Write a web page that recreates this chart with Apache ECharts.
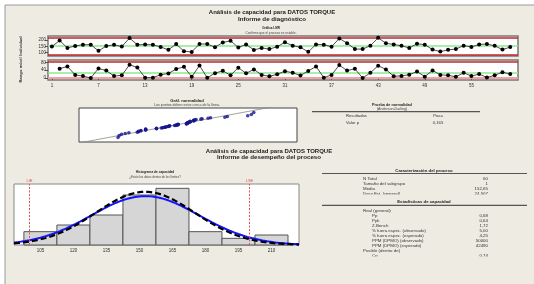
<!DOCTYPE html>
<html>
<head>
<meta charset="utf-8">
<script src="https://cdn.jsdelivr.net/npm/echarts@6/dist/echarts.min.js"></script>
<style>
html,body{margin:0;padding:0;background:#fff;}
#main{width:534px;height:284px;}
</style>
</head>
<body>
<div id="main"></div>
<script>
var torque = [148,196,137,153,163,163,114,152,162,148,
              216,162,164,162,145,122,168,111,105,169,
              168,143,180,194,141,165,121,137,128,147,
              182,155,142,106,165,163,147,213,175,128,
              128,155,218,174,165,154,137,170,163,124,
              108,122,128,155,145,165,168,154,124,144];
var movingRange = [null,48,59,16,10,0,49,38,10,14,
                   68,54,2,2,17,23,46,57,6,64,
                   1,25,37,14,53,24,44,16,9,19,
                   35,27,13,36,59,2,16,66,38,47,
                   0,27,63,44,9,11,17,33,7,39,
                   16,14,6,27,10,20,3,14,30,20];
var obsTicks = [1,7,13,19,25,31,37,43,49,55];
var iTicks = [100,150,200];
var mrTicks = [0,40,80];
var iLimits = [85.1,152.65,220.2];   // LCL, media, UCL
var mrLimits = [0,25.4,83.0];

// histograma de capacidad
var binCenters = [105,120,135,150,165,180,195,210];
var binCounts = [4,6,9,15,17,4,2,3];
var binWidth = 15;
var specLimits = [100,200];
var specNames = ['LIE','LSE'];
var meanVal = 152.65, sdOverall = 24.5, sdWithin = 22.5;

// tablas
var charRows = [['N Total','60'],['Tamaño del subgrupo','1'],['Media','152,65'],['Desv.Est. (general)','24,507']];
var capRows = [['Real (general)','',0],['Pp','0,68',1],['Ppk','0,64',1],['Z.Bench','1,72',1],
               ['% fuera espec. (observado)','5,00',1],['% fuera espec. (esperado)','4,25',1],
               ['PPM (DPMO) (observado)','50000',1],['PPM (DPMO) (esperado)','42490',1],
               ['Posible (dentro de)','',0],['Cp','0,74',1]];
var normRows = [['Resultados','Pasa'],['Valor p','0,165']];

var BG = '#eeebe2';
var FONT = '"Liberation Sans", Arial, sans-serif';

function normInv(p){
    var a=[-39.69683028665376,220.9460984245205,-275.9285104469687,138.3577518672690,-30.66479806614716,2.506628277459239];
    var b=[-54.47609879822406,161.5858368580409,-155.6989798598866,66.80131188771720,-13.28068155288572];
    var c=[-7.784894002430293e-03,-3.223964580411365e-01,-2.400758277161838,-2.549732539343734,4.374664141464968,2.938163982698783];
    var d=[7.784695709041462e-03,3.224671290700398e-01,2.445134137142996,3.754408661907416];
    var q, r;
    if(p<0.02425){q=Math.sqrt(-2*Math.log(p));return (((((c[0]*q+c[1])*q+c[2])*q+c[3])*q+c[4])*q+c[5])/((((d[0]*q+d[1])*q+d[2])*q+d[3])*q+1);}
    if(p>1-0.02425){q=Math.sqrt(-2*Math.log(1-p));return -(((((c[0]*q+c[1])*q+c[2])*q+c[3])*q+c[4])*q+c[5])/((((d[0]*q+d[1])*q+d[2])*q+d[3])*q+1);}
    q=p-0.5;r=q*q;
    return (((((a[0]*r+a[1])*r+a[2])*r+a[3])*r+a[4])*r+a[5])*q/(((((b[0]*r+b[1])*r+b[2])*r+b[3])*r+b[4])*r+1);
}
function normCurve(sd){
    var out = [];
    var k = torque.length*binWidth/(sd*Math.sqrt(2*Math.PI));
    for(var x=93;x<=222.5;x+=0.5){
        out.push([x, k*Math.exp(-0.5*Math.pow((x-meanVal)/sd,2))]);
    }
    return out;
}

var iData = torque.map(function(v,i){return [i+1,v];});
var mrData = [];
for(var i=1;i<movingRange.length;i++){ mrData.push([i+1,movingRange[i]]); }
var sorted = torque.slice().sort(function(a,b){return a-b;});
var probData = sorted.map(function(v,i){return [v, normInv((i+1-0.3)/(sorted.length+0.4))];});

function txt(x,y,s,size,bold,align,color){
    return {type:'text', x:x, y:y, z:10, style:{text:s, font:(bold?'bold ':'')+size+'px '+FONT,
        fill:color||'#222', textAlign:align||'center', textVerticalAlign:'middle'}};
}
function rule(x1,x2,y){
    return {type:'line', z:10, shape:{x1:x1,y1:y,x2:x2,y2:y}, style:{stroke:'#555',lineWidth:1.2}};
}
function limLine(v,color,w){
    return {yAxis:v, lineStyle:{color:color,width:w,type:'solid'}};
}

var graphics = [
    {type:'rect', z:-10, shape:{x:5,y:5,width:540,height:290}, style:{fill:BG,stroke:'#9a9a9a',lineWidth:1}},
    txt(272,12,'Análisis de capacidad para DATOS TORQUE',6,true),
    txt(272,19,'Informe de diagnóstico',6.2,true),
    txt(271,28.5,'Gráfica I-MR',3,true),
    txt(271,33,'Confirme que el proceso es estable.',3.2,false,'center','#444'),
    txt(187,100.5,'Gráf. normalidad',4.2,true),
    txt(187,105,'Los puntos deben estar cerca de la línea.',3.6,false,'center','#444'),
    txt(392,104.5,'Prueba de normalidad',3.8,true),
    txt(392,108.5,'(Anderson-Darling)',3.6,false,'center','#444'),
    rule(312,480,111.7),
    txt(269,151.5,'Análisis de capacidad para DATOS TORQUE',6,true),
    txt(269,157.5,'Informe de desempeño del proceso',6.2,true),
    txt(155,172.5,'Histograma de capacidad',3.2,true),
    txt(155,176.7,'¿Están los datos dentro de los límites?',3,false,'center','#444'),
    txt(424,171,'Caracterización del proceso',4.3,true),
    rule(322,527,173.5),
    txt(424,202.3,'Estadísticas de capacidad',4.3,true),
    rule(322,527,205.3)
];
normRows.forEach(function(r,i){
    graphics.push(txt(346,116+i*7,r[0],4.2,false,'left','#333'));
    graphics.push(txt(438,116+i*7,r[1],4.2,false,'center','#333'));
});
charRows.forEach(function(r,i){
    graphics.push(txt(363,179+i*5,r[0],4.4,false,'left','#333'));
    graphics.push(txt(488,179+i*5,r[1],4.4,false,'right','#333'));
});
capRows.forEach(function(r,i){
    graphics.push(txt(r[2]?372:363,211+i*5,r[0],4.4,false,'left','#333'));
    graphics.push(txt(488,211+i*5,r[1],4.4,false,'right','#333'));
});
// filas recortadas como en el informe original
graphics.push({type:'rect', z:20, shape:{x:330,y:194.6,width:180,height:4.5}, style:{fill:BG}});
graphics.push({type:'rect', z:20, shape:{x:330,y:256.6,width:180,height:8}, style:{fill:BG}});

var axisTxt = {fontSize:4.5, color:'#333', fontFamily:FONT};

var option = {
    animation:false,
    backgroundColor:'#fff',
    graphic:graphics,
    grid:[
        {left:48,top:36,width:470,height:20,show:true,backgroundColor:'#fff',borderColor:'#777',borderWidth:1.5,containLabel:false,outerBoundsMode:'none'},
        {left:48,top:60,width:470,height:20,show:true,backgroundColor:'#fff',borderColor:'#777',borderWidth:1.5,containLabel:false,outerBoundsMode:'none'},
        {left:79,top:108,width:218,height:34,show:true,backgroundColor:'#fff',borderColor:'#444',borderWidth:1,containLabel:false,outerBoundsMode:'none'},
        {left:14,top:184,width:285,height:61,show:true,backgroundColor:'#fff',borderColor:'#888',borderWidth:1,containLabel:false,outerBoundsMode:'none'}
    ],
    xAxis:[
        {gridIndex:0,type:'value',min:0.5,max:61,axisLine:{show:false},axisTick:{show:false},axisLabel:{show:false},splitLine:{show:false}},
        {gridIndex:1,type:'value',min:0.5,max:61,axisLine:{show:false},
            axisTick:{show:true,length:2,customValues:obsTicks,lineStyle:{color:'#555'}},
            axisLabel:Object.assign({customValues:obsTicks,margin:3},axisTxt),splitLine:{show:false}},
        {gridIndex:2,type:'value',min:72.5,max:254,show:false},
        {gridIndex:3,type:'value',min:93,max:222.5,axisLine:{show:false},
            axisTick:{show:false},
            axisLabel:Object.assign({customValues:binCenters,margin:3},axisTxt),splitLine:{show:false}}
    ],
    yAxis:[
        {gridIndex:0,type:'value',min:73,max:232,name:'Individual',nameLocation:'middle',nameGap:25,nameRotate:90,
            nameTextStyle:{fontSize:4.2,fontWeight:'bold',color:'#333',fontFamily:FONT},
            axisLine:{show:false},axisTick:{show:true,length:3,customValues:iTicks,lineStyle:{color:'#555'}},
            axisLabel:Object.assign({customValues:iTicks,margin:2},axisTxt),splitLine:{show:false}},
        {gridIndex:1,type:'value',min:-10,max:92,name:'Rango móvil',nameLocation:'middle',nameGap:25,nameRotate:90,
            nameTextStyle:{fontSize:4.2,fontWeight:'bold',color:'#333',fontFamily:FONT},
            axisLine:{show:false},axisTick:{show:true,length:3,customValues:mrTicks,lineStyle:{color:'#555'}},
            axisLabel:Object.assign({customValues:mrTicks,margin:2},axisTxt),splitLine:{show:false}},
        {gridIndex:2,type:'value',min:-3.1,max:3.1,show:false},
        {gridIndex:3,type:'value',min:0,max:18.3,show:false}
    ],
    series:[
        {type:'line',xAxisIndex:0,yAxisIndex:0,data:iData,symbol:'circle',symbolSize:4,
            itemStyle:{color:'#000'},lineStyle:{color:'#222',width:0.8},z:5,
            markLine:{silent:true,symbol:'none',label:{show:false},
                data:[limLine(iLimits[2],'#c0282a',1.6),limLine(iLimits[1],'#8fe88f',1.6),limLine(iLimits[0],'#c0282a',1.6)]}},
        {type:'line',xAxisIndex:1,yAxisIndex:1,data:mrData,symbol:'circle',symbolSize:4,
            itemStyle:{color:'#000'},lineStyle:{color:'#222',width:0.8},z:5,
            markLine:{silent:true,symbol:'none',label:{show:false},
                data:[limLine(mrLimits[2],'#c0282a',1.6),limLine(mrLimits[1],'#8fe88f',1.6),limLine(mrLimits[0],'#f2a0a0',2)]}},
        {type:'line',xAxisIndex:2,yAxisIndex:2,clip:true,symbol:'none',silent:true,
            data:[[meanVal-3.6*sdOverall,-3.6],[meanVal+3.6*sdOverall,3.6]],
            lineStyle:{color:'#8a8a8a',width:0.8}},
        {type:'scatter',xAxisIndex:2,yAxisIndex:2,data:probData,symbolSize:3.6,
            itemStyle:{color:'#14148c'},z:5},
        {type:'custom',xAxisIndex:3,yAxisIndex:3,data:binCenters.map(function(c,i){return [c,binCounts[i]];}),
            renderItem:function(params,api){
                var c = api.value(0), n = api.value(1);
                var p0 = api.coord([c-binWidth/2,n]);
                var p1 = api.coord([c+binWidth/2,0]);
                return {type:'rect',shape:{x:p0[0],y:p0[1],width:p1[0]-p0[0],height:p1[1]-p0[1]},
                    style:{fill:'#d6d6d6',stroke:'#555',lineWidth:1}};
            }},
        {type:'line',xAxisIndex:3,yAxisIndex:3,data:normCurve(sdOverall),symbol:'none',smooth:false,
            lineStyle:{color:'#1515ff',width:2},z:4,
            markLine:{silent:true,symbol:'none',
                label:{show:true,position:'end',distance:1,formatter:function(p){return p.name;},
                    color:'#e05050',fontSize:4,fontFamily:FONT},
                data:specLimits.map(function(v,i){return {xAxis:v,name:specNames[i],
                    lineStyle:{color:'#e05050',type:[2,1.5],width:1}};})}},
        {type:'line',xAxisIndex:3,yAxisIndex:3,data:normCurve(sdWithin),symbol:'none',
            lineStyle:{color:'#000',width:2.2,type:[6,3]},z:5}
    ]
};
var chart = echarts.init(document.getElementById('main'));
chart.setOption(option);
</script>
</body>
</html>
